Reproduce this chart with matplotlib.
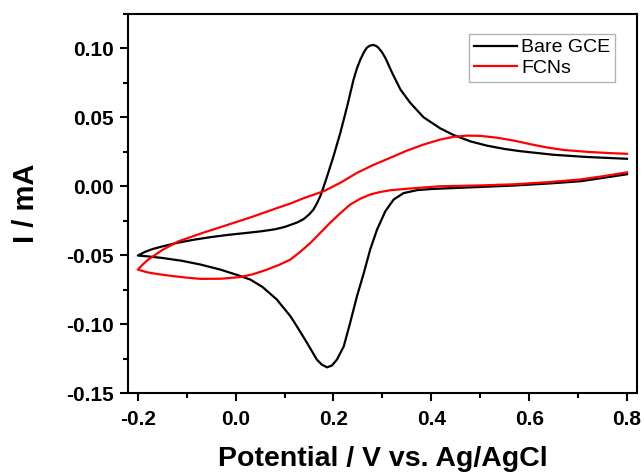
import matplotlib
matplotlib.use("Agg")
import matplotlib.pyplot as plt
from matplotlib.ticker import MultipleLocator

plt.rcParams['font.family'] = ['Liberation Sans', 'DejaVu Sans']

# Bare GCE: cathodic scan (0.8 -> -0.2 V) then anodic scan (-0.2 -> 0.8 V)
bare_potential = [
    0.800, 0.750, 0.704, 0.640, 0.568, 0.500, 0.432, 0.400, 0.371, 0.343,
    0.323, 0.306, 0.289, 0.275, 0.262, 0.248, 0.234, 0.221, 0.207, 0.197,
    0.187, 0.176, 0.166, 0.146, 0.125, 0.112, 0.084, 0.055, 0.030, 0.005,
    -0.031, -0.072, -0.110, -0.151, -0.180, -0.200,
    -0.185, -0.170, -0.151, -0.117, -0.083, -0.050, -0.015, 0.020, 0.053, 0.080,
    0.100, 0.112, 0.126, 0.139, 0.150, 0.159, 0.166, 0.173, 0.180, 0.187,
    0.200, 0.214, 0.228, 0.241, 0.248, 0.255, 0.262, 0.268, 0.274, 0.281,
    0.287, 0.292, 0.299, 0.306, 0.320, 0.337, 0.357, 0.384, 0.418, 0.445,
    0.480, 0.514, 0.550, 0.582, 0.650, 0.718, 0.800,
]
bare_current = [
    0.0087, 0.0060, 0.0036, 0.0020, 0.0005, -0.0005, -0.0015, -0.0020, -0.0028, -0.0050,
    -0.0096, -0.0181, -0.0314, -0.0459, -0.0628, -0.0797, -0.0990, -0.1160, -0.1256, -0.1298,
    -0.1312, -0.1292, -0.1256, -0.1135, -0.1014, -0.0942, -0.0820, -0.0730, -0.0676, -0.0645,
    -0.0604, -0.0567, -0.0540, -0.0519, -0.0508, -0.0502,
    -0.0475, -0.0455, -0.0437, -0.0408, -0.0386, -0.0368, -0.0352, -0.0339, -0.0326, -0.0312,
    -0.0295, -0.0280, -0.0262, -0.0238, -0.0205, -0.0169, -0.0125, -0.0072, -0.0002, 0.0072,
    0.0217, 0.0387, 0.0580, 0.0773, 0.0855, 0.0918, 0.0970, 0.1003, 0.1018, 0.1024,
    0.1017, 0.1003, 0.0972, 0.0930, 0.0821, 0.0700, 0.0604, 0.0500, 0.0420, 0.0372,
    0.0325, 0.0294, 0.0270, 0.0254, 0.0228, 0.0212, 0.0199,
]

# FCNs
fcn_potential = [
    0.800, 0.750, 0.704, 0.640, 0.568, 0.500, 0.418, 0.384, 0.350, 0.316,
    0.295, 0.275, 0.255, 0.234, 0.214, 0.193, 0.173, 0.153, 0.132, 0.112,
    0.090, 0.064, 0.035, 0.009, -0.030, -0.072, -0.100, -0.130, -0.160, -0.180,
    -0.200,
    -0.190, -0.179, -0.150, -0.117, -0.065, -0.015, 0.035, 0.087, 0.112, 0.140,
    0.180, 0.214, 0.248, 0.282, 0.316, 0.350, 0.384, 0.418, 0.445, 0.473,
    0.500, 0.534, 0.570, 0.602, 0.635, 0.670, 0.720, 0.760, 0.800,
]
fcn_current = [
    0.0101, 0.0072, 0.0049, 0.0030, 0.0014, 0.0006, 0.0000, -0.0009, -0.0018, -0.0029,
    -0.0042, -0.0060, -0.0090, -0.0133, -0.0195, -0.0265, -0.0338, -0.0410, -0.0475, -0.0531,
    -0.0568, -0.0604, -0.0638, -0.0658, -0.0670, -0.0671, -0.0662, -0.0650, -0.0636, -0.0624,
    -0.0604,
    -0.0567, -0.0532, -0.0462, -0.0399, -0.0335, -0.0278, -0.0220, -0.0155, -0.0125, -0.0085,
    -0.0036, 0.0025, 0.0097, 0.0155, 0.0206, 0.0258, 0.0302, 0.0338, 0.0358, 0.0367,
    0.0365, 0.0352, 0.0330, 0.0305, 0.0282, 0.0263, 0.0249, 0.0241, 0.0235,
]

fig = plt.figure(figsize=(6.44, 4.73), dpi=100)
ax = fig.add_axes([0.1988, 0.1685, 0.79, 0.8025])

ax.plot(bare_potential, bare_current, color='black', lw=1.6, label='Bare GCE')
ax.plot(fcn_potential, fcn_current, color='#ff0000', lw=1.6, label='FCNs')

ax.set_xlim(-0.22, 0.82)
ax.set_ylim(-0.15, 0.125)
ax.xaxis.set_major_locator(MultipleLocator(0.2))
ax.xaxis.set_minor_locator(MultipleLocator(0.1))
ax.yaxis.set_major_locator(MultipleLocator(0.05))
ax.yaxis.set_minor_locator(MultipleLocator(0.025))
ax.xaxis.set_major_formatter(plt.FormatStrFormatter('%.1f'))
ax.yaxis.set_major_formatter(plt.FormatStrFormatter('%.2f'))

for s in ax.spines.values():
    s.set_linewidth(1.5)
ax.tick_params(which='major', direction='out', length=6, width=1.5, labelsize=15)
ax.tick_params(which='minor', direction='out', length=3.5, width=1.5)
ax.tick_params(axis='x', which='major', pad=6)
ax.tick_params(axis='y', which='major', pad=4)
for lab in ax.get_xticklabels() + ax.get_yticklabels():
    lab.set_fontweight('bold')

ax.set_xlabel('Potential / V vs. Ag/AgCl', fontsize=20.5, fontweight='bold')
ax.set_ylabel('I / mA', fontsize=21, fontweight='bold')
ax.xaxis.set_label_coords(0.5, -0.14)
ax.yaxis.set_label_coords(-0.174, 0.5)

leg = ax.legend(loc='upper right', bbox_to_anchor=(0.957, 0.9465), borderaxespad=0,
                fontsize=14, fancybox=False, handlelength=2.2, handletextpad=0.2,
                labelspacing=0.15, borderpad=0.25)
leg.get_frame().set_edgecolor('#a0a0a0')
leg.get_frame().set_linewidth(1.0)

fig.savefig('out.png', dpi=100)
